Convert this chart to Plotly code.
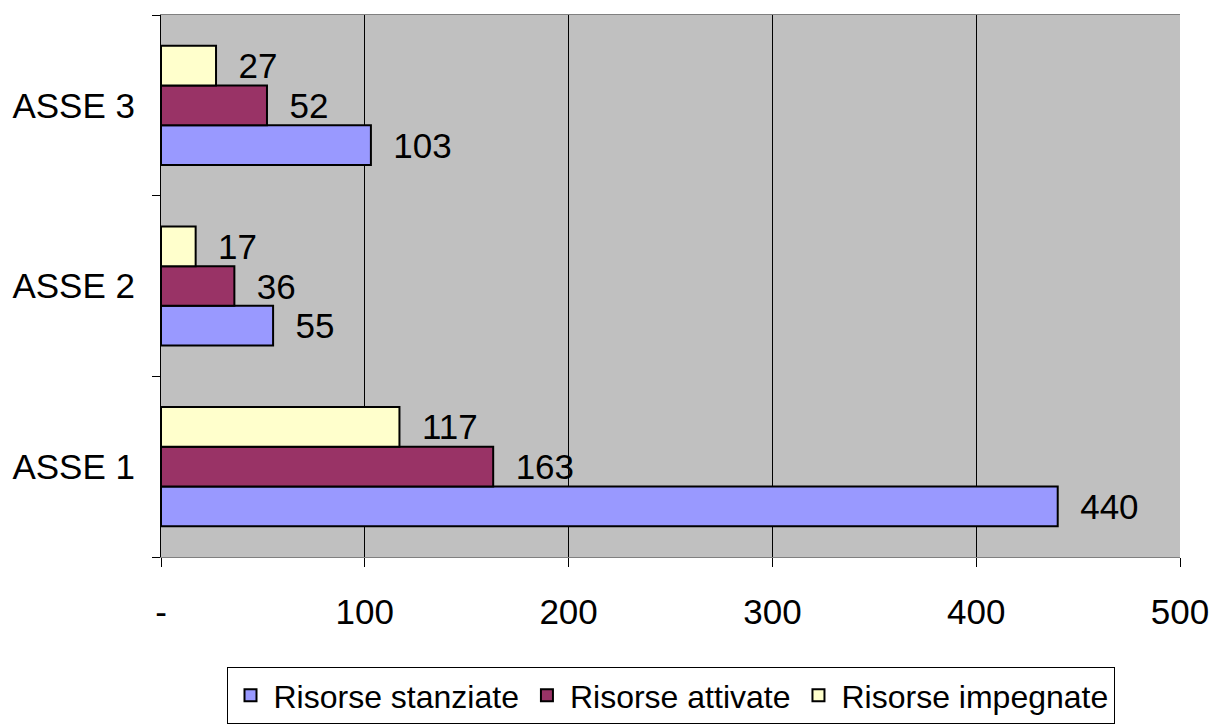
import plotly.graph_objects as go

categories = ["ASSE 1", "ASSE 2", "ASSE 3"]
stanziate = [440, 55, 103]
attivate = [163, 36, 52]
impegnate = [117, 17, 27]
tick_vals = [0, 100, 200, 300, 400, 500]
tick_text = ["-", "100", "200", "300", "400", "500"]

font = dict(family="Liberation Sans, Arial, sans-serif", size=35, color="black")
legend_font = dict(family="Liberation Sans, Arial, sans-serif", size=32, color="black")

fig = go.Figure()
for name, vals, color in [
    ("Risorse stanziate", stanziate, "#9999FF"),
    ("Risorse attivate", attivate, "#993366"),
    ("Risorse impegnate", impegnate, "#FFFFCC"),
]:
    fig.add_trace(go.Bar(
        y=categories, x=vals, name=name, orientation="h",
        marker=dict(color=color, line=dict(color="black", width=2)),
        text=["  " + str(v) for v in vals], textposition="outside",
        textfont=font, cliponaxis=False, constraintext="none",
    ))

fig.update_layout(
    width=1211, height=724,
    margin=dict(l=161, r=31, t=15, b=167, autoexpand=False),
    barmode="group", bargap=0.34, bargroupgap=0,
    plot_bgcolor="#C0C0C0", paper_bgcolor="white",
    font=font,
    showlegend=True,
    legend=dict(orientation="h", x=0.5, xanchor="center", y=-0.203, yanchor="top",
                bordercolor="black", borderwidth=1, font=legend_font,
                traceorder="normal", itemwidth=36, tracegroupgap=0),
    xaxis=dict(range=[0, 500], tickvals=tick_vals, ticktext=tick_text,
               showgrid=True, gridcolor="black", gridwidth=1,
               ticks="outside", ticklen=9, tickcolor="black",
               showline=True, linecolor="#808080", linewidth=1, mirror=True,
               ticklabelstandoff=15, zeroline=False, automargin=False),
    yaxis=dict(showgrid=False, ticks="outside", ticklen=8, tickcolor="black",
               tickson="boundaries", showline=True, linecolor="black", linewidth=1,
               ticklabelstandoff=18, automargin=False),
)

fig.write_html("out.html", config={"displayModeBar": False},
               post_script="document.body.style.margin='0';")
